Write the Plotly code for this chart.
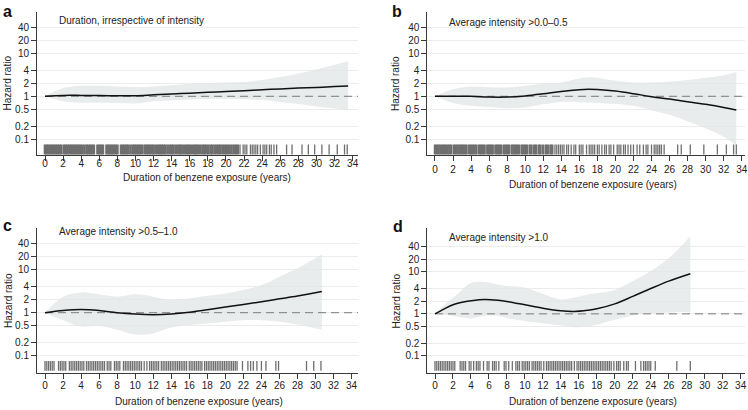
import plotly.graph_objects as go

# ---------------- data ----------------
a_x = [0, 2, 4, 6, 8, 10, 12, 14, 16, 18, 20, 22, 24, 26, 28, 30, 32, 33.5]
a_hr = [1.0, 1.05, 1.05, 1.04, 1.03, 1.03, 1.08, 1.13, 1.18, 1.24, 1.29, 1.35, 1.42, 1.48, 1.55, 1.61, 1.68, 1.74]
a_hi = [1.0, 1.55, 1.75, 1.75, 1.7, 1.65, 1.7, 1.8, 1.95, 2.05, 2.1, 2.15, 2.4, 2.8, 3.4, 4.2, 5.4, 6.6]
a_lo = [1.0, 0.77, 0.71, 0.71, 0.7, 0.68, 0.77, 0.8, 0.84, 0.87, 0.88, 0.85, 0.82, 0.74, 0.66, 0.58, 0.52, 0.47]

b_x = [0, 2, 4, 6, 8, 10, 12, 14, 16, 17, 18, 20, 22, 24, 26, 28, 30, 32, 33.4]
b_hr = [1.0, 1.0, 1.0, 0.96, 0.96, 1.02, 1.14, 1.3, 1.42, 1.45, 1.43, 1.32, 1.15, 0.98, 0.86, 0.75, 0.65, 0.55, 0.48]
b_hi = [1.0, 1.45, 1.68, 1.62, 1.6, 1.75, 1.95, 2.1, 2.6, 2.77, 2.7, 2.3, 2.1, 2.08, 2.2, 2.4, 2.7, 3.1, 3.68]
b_lo = [1.0, 0.7, 0.6, 0.56, 0.53, 0.55, 0.65, 0.74, 0.73, 0.72, 0.7, 0.66, 0.6, 0.47, 0.37, 0.26, 0.18, 0.115, 0.072]

c_x = [0, 2, 4, 6, 8, 10, 12, 14, 16, 18, 20, 22, 24, 26, 28, 30.7]
c_hr = [1.0, 1.12, 1.18, 1.12, 1.0, 0.93, 0.9, 0.93, 1.02, 1.17, 1.35, 1.55, 1.8, 2.1, 2.45, 3.1]
c_hi = [1.0, 2.36, 2.97, 2.67, 2.36, 2.67, 2.36, 1.97, 2.15, 2.48, 2.8, 3.36, 4.4, 6.9, 10.8, 22.7]
c_lo = [1.0, 0.67, 0.48, 0.5, 0.4, 0.31, 0.33, 0.45, 0.52, 0.56, 0.62, 0.67, 0.67, 0.62, 0.53, 0.4]

d_x = [0, 1, 2, 3, 4, 5.5, 7, 8, 10, 12, 14, 15.5, 17, 18, 20, 22, 24, 26, 28.4]
d_hr = [1.0, 1.3, 1.64, 1.88, 2.04, 2.19, 2.1, 1.97, 1.64, 1.36, 1.18, 1.14, 1.22, 1.32, 1.73, 2.6, 4.0, 6.0, 9.0]
d_hi = [1.0, 1.6, 2.4, 3.7, 5.4, 5.7, 5.0, 4.6, 4.2, 3.0, 2.2, 2.45, 2.9, 3.1, 3.7, 6.0, 10.5, 21, 70]
d_lo = [1.0, 0.95, 0.9, 0.82, 0.77, 0.9, 0.9, 0.8, 0.68, 0.6, 0.53, 0.48, 0.5, 0.55, 0.72, 0.91, 1.03, 1.08, 1.1]

rug_a = [0.0, 0.2, 0.4, 0.6, 0.8, 1.0, 1.2, 1.4, 1.6, 1.8, 2.1, 2.3, 2.5, 2.7, 2.9, 3.1, 3.3, 3.5, 3.7, 3.9, 4.1,
         4.35, 4.6, 4.8, 5.0, 5.2, 5.4, 5.8, 6.0, 6.2, 6.4, 6.8, 7.0, 7.2, 7.4, 7.6, 7.8, 8.0, 8.4, 8.6, 8.8, 9.0,
         9.2, 9.45, 9.7, 9.9, 10.1, 10.3, 10.5, 10.7, 11.0, 11.2, 11.4, 11.6, 11.8, 12.0, 12.25, 12.5, 12.7, 12.9,
         13.1, 13.3, 13.55, 13.8, 14.0, 14.2, 14.45, 14.7, 14.9, 15.1, 15.35, 15.6, 15.8, 16.0, 16.25, 16.5, 16.7,
         16.9, 17.15, 17.4, 17.6, 17.8, 18.05, 18.3, 18.5, 18.75, 19.0, 19.2, 19.4, 19.65, 19.9, 20.1, 20.35, 20.6,
         20.85, 21.1, 21.3, 21.55, 21.9, 22.1, 22.3, 22.7, 22.9, 23.1, 23.3, 23.5, 23.8, 24.1, 24.3, 24.5, 24.8,
         25.0, 25.3, 25.6, 26.7, 27.3, 28.4, 29.1, 29.8, 30.6, 31.4, 32.3, 33.1, 33.4]
rug_b = [0.0, 0.2, 0.4, 0.6, 0.8, 1.0, 1.2, 1.4, 1.6, 1.8, 2.1, 2.3, 2.5, 2.7, 2.9, 3.1, 3.3, 3.5, 3.8, 4.0, 4.2,
         4.4, 4.6, 4.9, 5.1, 5.3, 5.5, 5.8, 6.0, 6.2, 6.4, 6.7, 6.9, 7.1, 7.3, 7.6, 7.8, 8.0, 8.2, 8.5, 8.7, 8.9,
         9.1, 9.3, 9.6, 9.8, 10.0, 10.2, 10.5, 10.7, 11.0, 11.2, 11.5, 11.7, 12.0, 12.3, 12.5, 12.8, 13.0, 13.3,
         13.5, 13.7, 13.9, 14.1, 14.3, 14.6, 14.8, 15.1, 15.4, 15.6, 16.0, 16.2, 16.4, 16.8, 17.1, 17.3, 17.5,
         17.7, 18.0, 18.2, 18.5, 18.8, 19.0, 19.3, 19.5, 19.8, 20.2, 20.4, 20.6, 20.9, 21.1, 21.4, 21.7, 22.0,
         22.4, 22.7, 23.1, 23.4, 23.6, 24.0, 24.3, 24.5, 24.7, 24.9, 25.1, 25.4, 26.9, 27.3, 28.3, 29.8, 31.3,
         32.3, 33.1, 33.4]
rug_c = [0.0, 0.2, 0.4, 0.6, 0.8, 1.0, 1.5, 1.7, 1.9, 2.1, 2.3, 2.7, 2.9, 3.1, 3.3, 3.5, 3.7, 3.9, 4.1, 4.3, 4.6,
         4.8, 5.0, 5.2, 5.4, 5.6, 5.8, 6.0, 6.2, 6.4, 6.6, 6.9, 7.1, 7.3, 7.7, 7.9, 8.1, 8.3, 8.7, 8.9, 9.1, 9.3,
         9.5, 9.7, 9.9, 10.1, 10.3, 10.5, 10.7, 11.0, 11.3, 11.6, 11.8, 12.0, 12.2, 12.4, 12.6, 12.9, 13.1, 13.3,
         13.5, 13.7, 13.9, 14.1, 14.3, 14.5, 14.7, 14.9, 15.1, 15.3, 15.5, 15.7, 16.0, 16.2, 16.4, 16.6, 16.8,
         17.0, 17.2, 17.4, 17.7, 17.9, 18.1, 18.3, 18.5, 18.7, 18.9, 19.1, 19.3, 19.5, 19.7, 19.9, 20.1, 20.3,
         20.5, 20.7, 20.9, 21.1, 21.3, 21.9, 22.5, 22.8, 23.1, 23.5, 24.0, 24.5, 25.6, 25.9, 29.0, 29.8, 30.6]
rug_d = [0.0, 0.2, 0.4, 0.6, 0.8, 1.0, 1.2, 1.4, 1.6, 1.8, 2.0, 2.2, 2.8, 3.0, 3.2, 3.4, 3.8, 4.0, 4.3, 4.6, 4.8,
         5.0, 5.4, 5.8, 6.0, 6.4, 6.6, 6.8, 7.1, 7.7, 7.9, 8.2, 8.6, 9.0, 9.2, 9.4, 9.7, 9.9, 10.1, 10.3, 10.5,
         10.8, 11.0, 11.2, 11.4, 11.6, 11.8, 12.1, 12.4, 12.6, 12.8, 13.0, 13.2, 13.4, 13.6, 13.8, 14.0, 14.2,
         14.4, 14.6, 14.8, 15.0, 15.2, 15.5, 15.8, 16.0, 16.2, 16.4, 16.6, 16.8, 17.0, 17.2, 17.4, 17.6, 17.8,
         18.0, 18.2, 18.4, 18.6, 18.8, 19.0, 19.2, 19.4, 19.6, 19.9, 20.2, 20.4, 20.6, 21.0, 21.3, 21.5, 22.3,
         22.9, 23.2, 23.4, 23.6, 23.8, 24.0, 24.5, 26.9, 28.4]

panel_letters = ["a", "b", "c", "d"]
panel_titles = ["Duration, irrespective of intensity", "Average intensity >0.0\u20130.5",
                "Average intensity >0.5\u20131.0", "Average intensity >1.0"]
x_ticks = list(range(0, 35, 2))
y_ticks = [0.1, 0.2, 0.5, 1, 2, 4, 10, 20, 40]
y_ticklabels = ["0.1", "0.2", "0.5", "1", "2", "4", "10", "20", "40"]
x_title = "Duration of benzene exposure (years)"
y_title = "Hazard ratio"
rug_level = 0.058

# ---------------- layout geometry (pixels) ----------------
W, H = 748, 410
panels = [
    dict(x=a_x, hr=a_hr, hi=a_hi, lo=a_lo, rug=rug_a, px=(37, 358), py=(12, 155.3),
         xr=(-0.884, 34.59), yr=(-1.372, 1.96), rugw=2.6, dense_end=21.4),
    dict(x=b_x, hr=b_hr, hi=b_hi, lo=b_lo, rug=rug_b, px=(427.3, 744.7), py=(12, 155.3),
         xr=(-0.85, 34.33), yr=(-1.372, 1.96), rugw=2.4, dense_end=13.2),
    dict(x=c_x, hr=c_hr, hi=c_hi, lo=c_lo, rug=rug_c, px=(37, 358), py=(228, 373.3),
         xr=(-0.887, 34.71), yr=(-1.409, 1.97), rugw=1.3, dense_end=40),
    dict(x=d_x, hr=d_hr, hi=d_hi, lo=d_lo, rug=rug_d, px=(427.3, 744.7), py=(228, 373.3),
         xr=(-0.856, 34.45), yr=(-1.412, 2.04), rugw=1.3, dense_end=40),
]
letter_pos = [(1, 1), (390, 1), (1, 215), (391, 216)]
title_pos = [(57, 20.7), (446.7, 22.7), (57.3, 231.7), (446.7, 237.3)]
ytitle_pos = [(7, 83.5), (396, 84), (8, 301), (396, 301.5)]
xtitle_pos = [(207, 178), (593, 184.3), (199, 401.7), (593, 401.7)]
xlab_standoff = [-6, 0, -2, -2]

FONT = "Liberation Sans, Arial, Helvetica, sans-serif"
AX = "#3a3a3a"
GRID = "#ececec"
BAND = "rgba(226,229,229,0.75)"

fig = go.Figure()
layout = dict(width=W, height=H, margin=dict(l=0, r=0, t=0, b=0, autoexpand=False),
              paper_bgcolor="white", plot_bgcolor="white", showlegend=False,
              font=dict(family=FONT, size=10, color="#222"))
annotations = []

for i, p in enumerate(panels):
    n = "" if i == 0 else str(i + 1)
    xa, ya = "x" + n, "y" + n
    # CI band
    fig.add_trace(go.Scatter(x=p["x"], y=p["hi"], xaxis=xa, yaxis=ya, mode="lines",
                             line=dict(width=0, shape="spline", smoothing=1.0), hoverinfo="skip"))
    fig.add_trace(go.Scatter(x=p["x"], y=p["lo"], xaxis=xa, yaxis=ya, mode="lines",
                             line=dict(width=0, shape="spline", smoothing=1.0), fill="tonexty",
                             fillcolor=BAND, hoverinfo="skip"))
    # reference line at HR = 1
    fig.add_trace(go.Scatter(x=[0, p["xr"][1]], y=[1, 1], xaxis=xa, yaxis=ya, mode="lines",
                             line=dict(color="#7a7a7a", width=1, dash="8px,5px")))
    # HR curve
    fig.add_trace(go.Scatter(x=p["x"], y=p["hr"], xaxis=xa, yaxis=ya, mode="lines",
                             line=dict(color="#111", width=1.5, shape="spline", smoothing=1.0)))
    # rug (thicker strokes where observations are dense)
    widths = [p["rugw"] if v <= p["dense_end"] else 1.3 for v in p["rug"]]
    fig.add_trace(go.Scatter(x=p["rug"], y=[rug_level] * len(p["rug"]), xaxis=xa, yaxis=ya,
                             mode="markers",
                             marker=dict(symbol="line-ns", size=7,
                                         line=dict(color="#6e6e6e", width=widths))))
    x0, x1 = p["px"]
    y0, y1 = p["py"]
    layout["xaxis" + n] = dict(domain=[x0 / W, x1 / W], anchor=ya, range=list(p["xr"]),
                               tickmode="array", tickvals=x_ticks, ticks="outside", ticklen=5,
                               tickcolor=AX, tickwidth=1, showline=True, linecolor=AX, linewidth=1,
                               showgrid=False, zeroline=False, ticklabelstandoff=xlab_standoff[i],
                               automargin=False, fixedrange=True,
                               tickfont=dict(size=10, color="#222"))
    layout["yaxis" + n] = dict(domain=[1 - y1 / H, 1 - y0 / H], anchor=xa, type="log",
                               range=list(p["yr"]), tickmode="array", tickvals=y_ticks,
                               ticktext=y_ticklabels, ticks="outside", ticklen=5, tickcolor=AX,
                               tickwidth=1, showline=True, linecolor=AX, linewidth=1,
                               showgrid=True, gridcolor=GRID, gridwidth=1, zeroline=False,
                               automargin=False, fixedrange=True,
                               tickfont=dict(size=10, color="#222"))
    lx, ly = letter_pos[i]
    annotations.append(dict(text="<b>%s</b>" % panel_letters[i], x=lx / W, y=1 - ly / H,
                            xref="paper", yref="paper", xanchor="left", yanchor="top",
                            showarrow=False, font=dict(size=16, color="#111")))
    tx, ty = title_pos[i]
    annotations.append(dict(text=panel_titles[i], x=tx / W, y=1 - ty / H, xref="paper",
                            yref="paper", xanchor="left", yanchor="middle", showarrow=False,
                            font=dict(size=10, color="#222")))
    yx, yy = ytitle_pos[i]
    annotations.append(dict(text=y_title, x=yx / W, y=1 - yy / H, xref="paper", yref="paper",
                            xanchor="center", yanchor="middle", textangle=-90, showarrow=False,
                            font=dict(size=10, color="#222")))
    xx, xy = xtitle_pos[i]
    annotations.append(dict(text=x_title, x=xx / W, y=1 - xy / H, xref="paper", yref="paper",
                            xanchor="center", yanchor="middle", showarrow=False,
                            font=dict(size=10, color="#222")))

layout["annotations"] = annotations
fig.update_layout(**layout)
fig.write_html("out.html", config={"displayModeBar": False, "staticPlot": True},
               post_script="document.body.style.margin='0';document.body.style.overflow='hidden';")
